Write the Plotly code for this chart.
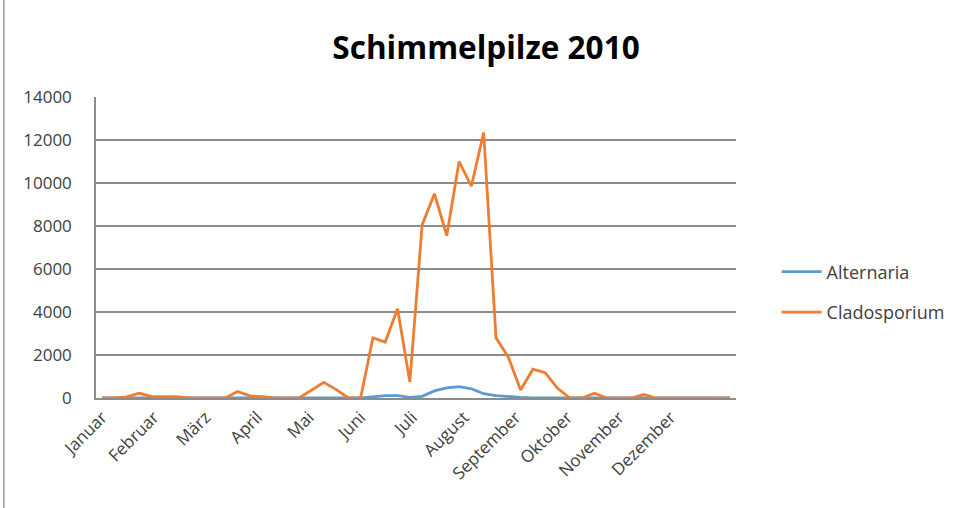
import plotly.graph_objects as go

# weekly categories (52 weeks of 2010)
weeks = list(range(1, 53))
months = ["Januar", "Februar", "März", "April", "Mai", "Juni", "Juli",
          "August", "September", "Oktober", "November", "Dezember"]

alternaria = [0, 0, 0, 0, 0, 0, 0, 0, 0, 0,
              0, 0, 0, 0, 0, 0, 0, 0, 0, 0,
              0, 0, 50, 110, 110, 30, 80, 330, 470, 530,
              430, 200, 110, 60, 30, 10, 0, 0, 0, 0,
              0, 0, 0, 0, 0, 0, 0, 0, 0, 0,
              0, 0]
cladosporium = [0, 0, 50, 220, 80, 80, 60, 0, 0, 0,
                0, 300, 100, 60, 0, 0, 0, 360, 730, 400,
                0, 0, 2800, 2600, 4150, 750, 8050, 9500, 7550, 11000,
                9850, 12350, 2800, 1900, 370, 1340, 1180, 450, 0, 0,
                220, 0, 0, 0, 160, 0, 0, 0, 0, 0,
                0, 0]

W, H = 962, 508
ML, MR, MT, MB = 96, 220, 97, 110
PW, PH = W - ML - MR, H - MT - MB
FONT = "Open Sans"
TXT = "#404040"
GRID = "#8c8c8c"

xs = list(range(len(weeks)))
# month labels spread evenly along the week axis
month_step = 4.2
month_ticks = [m * month_step for m in range(len(months))]

fig = go.Figure()
fig.add_trace(go.Scatter(x=xs, y=alternaria, mode="lines", name="Alternaria",
                         legendgroup="a",
                         line=dict(color="#5B9BD5", width=2.8)))
fig.add_trace(go.Scatter(x=xs, y=cladosporium, mode="lines", name="Cladosporium",
                         legendgroup="c",
                         line=dict(color="#ED7D31", width=2.8)))

fig.update_layout(
    width=W, height=H,
    margin=dict(l=ML, r=MR, t=MT, b=MB, pad=0),
    paper_bgcolor="white", plot_bgcolor="white",
    font=dict(family=FONT, color=TXT, size=14),
    title=dict(text="<b>Schimmelpilze 2010</b>", x=486 / W, xref="container",
               xanchor="center", y=1 - 48 / H, yref="container", yanchor="middle",
               font=dict(family=FONT, size=31.5, color="#000000")),
    showlegend=True,
    legend=dict(x=(783 - ML) / PW, xanchor="left",
                y=(H - MB - 292) / PH, yanchor="middle",
                bgcolor="rgba(0,0,0,0)",
                font=dict(family=FONT, size=18, color=TXT),
                tracegroupgap=14, itemwidth=40),
    xaxis=dict(range=[-0.5, len(weeks) - 0.5], tickmode="array",
               tickvals=month_ticks, ticktext=months,
               tickangle=-45, showgrid=False, zeroline=False,
               showline=True, linecolor=GRID, linewidth=1.5,
               ticks="", ticklabelstandoff=1,
               tickfont=dict(family=FONT, size=17, color=TXT)),
    yaxis=dict(range=[0, 14000], dtick=2000, tickformat="d",
               showgrid=True, gridcolor=GRID,
               gridwidth=1.6, zeroline=False, showline=True, linecolor=GRID,
               linewidth=1.5, ticks="", ticklabelstandoff=19,
               tickfont=dict(family=FONT, size=17, color=TXT)),
)

# chart-area border on the left edge
fig.add_shape(type="line", xref="paper", yref="paper",
              x0=(3 - ML) / PW, x1=(3 - ML) / PW,
              y0=-MB / PH, y1=1 + MT / PH,
              line=dict(color="#9a9a9a", width=1.5))

fig.write_html("out.html")
